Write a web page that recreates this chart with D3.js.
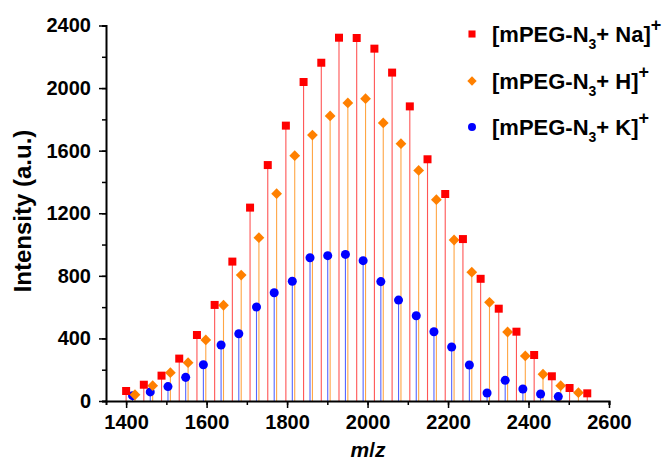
<!DOCTYPE html>
<html>
<head>
<meta charset="utf-8">
<script src="https://cdn.jsdelivr.net/npm/d3@7"></script>
<style>
body { margin: 0; background: #fff; }
text { font-family: Arial, "Liberation Sans", sans-serif; font-weight: bold; }
</style>
</head>
<body>
<svg id="chart" width="663" height="460"></svg>
<script>
// [mPEG-N3 + Na]+
var naMz = [1400, 1444, 1488, 1532, 1576, 1620, 1664, 1708, 1752, 1797, 1841, 1885, 1929, 1973,
            2017, 2061, 2105, 2149, 2193, 2237, 2281, 2326, 2370, 2414, 2458, 2502, 2546];
var naInt = [64, 104, 162, 271, 422, 614, 891, 1236, 1508, 1760, 2039, 2162, 2322, 2320,
             2252, 2099, 1883, 1545, 1323, 1035, 781, 590, 443, 294, 158, 83, 49];
// [mPEG-N3 + H]+
var hMz = [1422, 1466, 1510, 1554, 1598, 1642, 1686, 1730, 1774, 1819, 1863, 1907, 1951,
           1995, 2039, 2083, 2127, 2171, 2215, 2259, 2303, 2348, 2392, 2436, 2480, 2524];
var hInt = [40, 98, 181, 245, 390, 612, 805, 1044, 1325, 1568, 1700, 1822, 1905,
            1932, 1777, 1645, 1474, 1287, 1029, 823, 631, 441, 288, 171, 98, 53];
// [mPEG-N3 + K]+
var kMz = [1416, 1460, 1504, 1548, 1592, 1636, 1680, 1724, 1768, 1813, 1857, 1901, 1945,
           1989, 2033, 2077, 2121, 2165, 2209, 2253, 2297, 2342, 2386, 2430, 2474];
var kInt = [34, 58, 92, 151, 232, 358, 430, 601, 692, 765, 916, 929, 937,
            897, 763, 645, 545, 443, 345, 230, 51, 132, 77, 45, 28];

var xTicks = [1400, 1600, 1800, 2000, 2200, 2400, 2600];
var yTicks = [0, 400, 800, 1200, 1600, 2000, 2400];

var svg = d3.select("#chart");

var x = d3.scaleLinear().domain([1350, 2600]).range([106, 609]);
var y = d3.scaleLinear().domain([0, 2400]).range([401, 25.5]);

var series = [
    { name: "K", mz: kMz, val: kInt, color: "#0000ff", stem: "#5566ff", shape: d3.symbolCircle, size: 64 },
    { name: "H", mz: hMz, val: hInt, color: "#ff8000", stem: "#ffa644", shape: d3.symbolDiamond2, size: 74 },
    { name: "Na", mz: naMz, val: naInt, color: "#ff0000", stem: "#ff5555", shape: d3.symbolSquare, size: 64 }
];

// stems first, then markers
var stems = svg.append("g");
var marks = svg.append("g");

series.forEach(function(s) {
    var pts = s.mz.map(function(m, i) { return { mz: m, v: s.val[i] }; });
    stems.selectAll(".stem-" + s.name)
        .data(pts)
        .enter().append("line")
        .attr("x1", function(d) { return x(d.mz); })
        .attr("x2", function(d) { return x(d.mz); })
        .attr("y1", y(0))
        .attr("y2", function(d) { return y(d.v); })
        .attr("stroke", s.stem)
        .attr("stroke-width", 1.1);
    marks.selectAll(".mk-" + s.name)
        .data(pts)
        .enter().append("path")
        .attr("d", d3.symbol().type(s.shape).size(s.size))
        .attr("transform", function(d) { return "translate(" + x(d.mz) + "," + y(d.v) + ")"; })
        .attr("fill", s.color);
});

// axes
var xAxisG = svg.append("g").attr("transform", "translate(0," + y(0) + ")");
xAxisG.call(d3.axisBottom(x).tickValues(d3.range(1400, 2601, 100)).tickSize(4).tickFormat(""));
xAxisG.selectAll(".tick line").attr("stroke-width", 1.5);
var xMajor = svg.append("g").attr("transform", "translate(0," + y(0) + ")")
    .call(d3.axisBottom(x).tickValues(xTicks).tickSize(7).tickPadding(7).tickFormat(d3.format("d")));
xMajor.select(".domain").remove();
xMajor.selectAll(".tick line").attr("stroke-width", 1.5);
xMajor.selectAll("text").attr("font-size", "20px").attr("fill", "#000")
    .attr("font-family", "Arial, 'Liberation Sans', sans-serif").attr("font-weight", "bold");

var yAxisG = svg.append("g").attr("transform", "translate(106,0)");
yAxisG.call(d3.axisLeft(y).tickValues(d3.range(0, 2401, 200)).tickSize(4).tickFormat(""));
yAxisG.selectAll(".tick line").attr("stroke-width", 1.5);
var yMajor = svg.append("g").attr("transform", "translate(106,0)")
    .call(d3.axisLeft(y).tickValues(yTicks).tickSize(7).tickPadding(8).tickFormat(d3.format("d")));
yMajor.select(".domain").remove();
yMajor.selectAll(".tick line").attr("stroke-width", 1.5);
yMajor.selectAll("text").attr("font-size", "20px").attr("fill", "#000")
    .attr("font-family", "Arial, 'Liberation Sans', sans-serif").attr("font-weight", "bold");

svg.selectAll(".domain").attr("stroke-width", 2);

// axis titles
svg.append("text")
    .attr("transform", "translate(31,211) rotate(-90)")
    .attr("text-anchor", "middle")
    .attr("font-size", "24px")
    .text("Intensity (a.u.)");

var xt = svg.append("text")
    .attr("x", 368).attr("y", 457)
    .attr("text-anchor", "middle")
    .attr("font-size", "21px")
    .attr("font-style", "italic");
xt.append("tspan").text("m");
xt.append("tspan").attr("font-style", "normal").text("/");
xt.append("tspan").text("z");

// legend
var legend = [
    { label: "Na]", color: "#ff0000", shape: d3.symbolSquare, size: 50, yy: 42 },
    { label: "H]", color: "#ff8000", shape: d3.symbolDiamond2, size: 56, yy: 89 },
    { label: "K]", color: "#0000ff", shape: d3.symbolCircle, size: 50, yy: 135 }
];
legend.forEach(function(l) {
    svg.append("path")
        .attr("d", d3.symbol().type(l.shape).size(l.size))
        .attr("transform", "translate(472," + (l.yy - 8) + ")")
        .attr("fill", l.color);
    var t = svg.append("text").attr("x", 492).attr("y", l.yy).attr("font-size", "22px");
    t.append("tspan").text("[mPEG-N");
    t.append("tspan").attr("font-size", "14px").attr("dy", 7).text("3");
    t.append("tspan").attr("dy", -7).text("+ " + l.label);
    t.append("tspan").attr("font-size", "18px").attr("dy", -11).text("+");
});
</script>
</body>
</html>
